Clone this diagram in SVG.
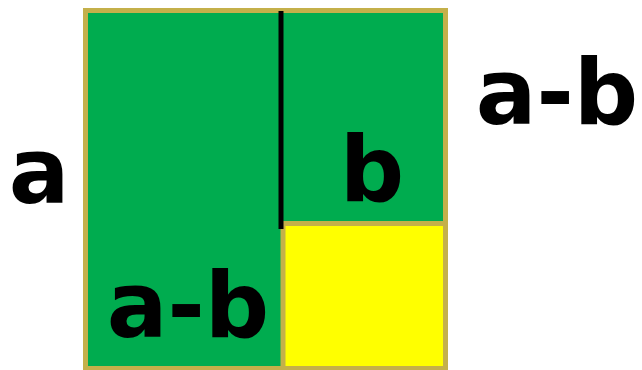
<svg xmlns="http://www.w3.org/2000/svg" width="642" height="370" viewBox="0 0 642 370">
<style>
.lbl{font-family:"Comic Sans MS","DejaVu Sans",sans-serif;font-weight:bold;font-size:90px;fill:#000;text-anchor:middle}
.edge{stroke:#C4B04A;stroke-width:5}
</style>
<rect width="642" height="370" fill="#fff"/>
<g id="outer-square"><rect class="edge" x="85.5" y="10.5" width="360" height="358" fill="#00AC4F"/></g>
<g id="yellow-square"><rect class="edge" x="283" y="223.5" width="162.5" height="145" fill="#FFFF00"/></g>
<g id="connectors"><line x1="281" y1="11" x2="281" y2="229" stroke="#000" stroke-width="5"/></g>
<g id="label-a"><text class="lbl" x="39" y="203">a</text></g>
<g id="label-amb-right"><text class="lbl" x="557" y="124">a-b</text></g>
<g id="label-b"><text class="lbl" x="372" y="201">b</text></g>
<g id="label-amb-bottom"><text class="lbl" x="188" y="337">a-b</text></g>
</svg>
